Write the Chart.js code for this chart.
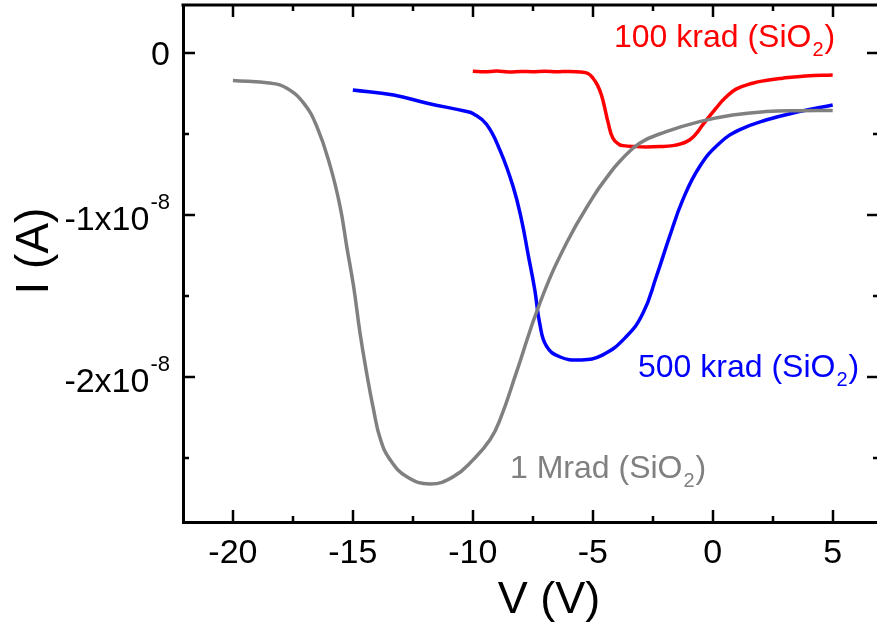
<!DOCTYPE html>
<html>
<head>
<meta charset="utf-8">
<script src="https://cdn.jsdelivr.net/npm/chart.js@4/dist/chart.umd.min.js"></script>
<style>
    html, body { margin: 0; padding: 0; background: #fff; overflow: hidden; }
    #wrap { width: 877px; height: 624px; overflow: hidden; }
</style>
</head>
<body>
<div id="wrap"><canvas id="ivChart" width="884" height="624"></canvas></div>
<script>
// current values are in units of 1e-8 A
const grayV = [-20, -18.4, -17.75, -17.05, -16.5, -15.94, -15.53, -15.25, -14.97, -14.7, -14.42, -14.14, -13.86, -13.45, -12.75, -11.78, -10.81, -9.98, -9.29, -8.87, -8.18, -7.21, -6.1, -4.99, -4.4, -3.88, -3.05, -1.94, -0.55, 0.83, 2.22, 3.61, 5];
const grayI = [-0.17, -0.187, -0.218, -0.31, -0.455, -0.70, -0.95, -1.2, -1.44, -1.73, -1.98, -2.2, -2.38, -2.51, -2.615, -2.66, -2.615, -2.51, -2.389, -2.265, -1.97, -1.545, -1.175, -0.89, -0.765, -0.67, -0.557, -0.486, -0.424, -0.383, -0.362, -0.356, -0.355];

const blueV = [-15, -13.3, -11.9, -10.3, -9.98, -9.43, -8.87, -8.32, -7.97, -7.7, -7.42, -7.21, -6.93, -6.38, -5.55, -4.6, -3.6, -2.91, -2.35, -1.8, -1.25, -0.55, 0.28, 1.11, 2.22, 3.61, 5];
const blueI = [-0.228, -0.26, -0.31, -0.36, -0.375, -0.44, -0.6, -0.825, -1.03, -1.24, -1.46, -1.67, -1.81, -1.875, -1.895, -1.865, -1.75, -1.607, -1.38, -1.134, -0.907, -0.702, -0.557, -0.475, -0.414, -0.362, -0.321];

const redV = [-10, -9.5, -9, -8.5, -8, -7.5, -7, -6.5, -6, -5.5, -5.2, -4.99, -4.8, -4.64, -4.5, -4.37, -4.16, -3.9, -3.74, -3.2, -2.77, -2.2, -1.66, -1.3, -0.97, -0.7, -0.42, 0.14, 0.5, 0.97, 1.66, 2.2, 2.91, 3.88, 5];
const redI = [-0.113, -0.116, -0.112, -0.117, -0.114, -0.116, -0.113, -0.116, -0.114, -0.118, -0.127, -0.156, -0.2, -0.259, -0.34, -0.424, -0.527, -0.565, -0.572, -0.578, -0.58, -0.578, -0.572, -0.56, -0.537, -0.5, -0.444, -0.341, -0.28, -0.223, -0.187, -0.17, -0.156, -0.142, -0.136];

const seriesLabels = ['1 Mrad (SiO', '500 krad (SiO', '100 krad (SiO'];
const seriesColors = ['#808080', '#0000ff', '#ff0000'];
const xTickLabels = ['-20', '-15', '-10', '-5', '0', '5'];
const yTickLabels = ['0', '-1x10', '-2x10'];
const xTitle = 'V (V)';
const yTitle = 'I (A)';

const FONT = '"Liberation Sans", Arial, sans-serif';

function toPoints(xs, ys) {
    return xs.map((v, i) => ({ x: v, y: ys[i] }));
}

function drawSubText(ctx, main, sub, x, y, size, color) {
    ctx.fillStyle = color;
    ctx.textAlign = 'left';
    ctx.textBaseline = 'alphabetic';
    ctx.font = size + 'px ' + FONT;
    ctx.fillText(main, x, y);
    let w = ctx.measureText(main).width;
    ctx.font = Math.round(size * 0.62) + 'px ' + FONT;
    ctx.fillText(sub, x + w + 1, y + 9);
    w += ctx.measureText(sub).width + 2;
    ctx.font = size + 'px ' + FONT;
    ctx.fillText(')', x + w, y);
}

const framePlugin = {
    id: 'frame',
    afterDraw(chart) {
        const ctx = chart.ctx;
        const area = chart.chartArea;
        const xs = chart.scales.x;
        const ys = chart.scales.y;
        ctx.save();
        ctx.strokeStyle = '#000';
        ctx.lineWidth = 3;
        ctx.lineCap = 'butt';

        // top and right border
        ctx.beginPath();
        ctx.moveTo(area.left - 1.5, area.top);
        ctx.lineTo(area.right, area.top);
        ctx.lineTo(area.right, area.bottom + 1.5);
        ctx.stroke();

        // x ticks (bottom and top, inward)
        ctx.lineWidth = 2.5;
        xs.ticks.forEach(t => {
            const px = Math.round(xs.getPixelForValue(t.value));
            const major = Math.abs(t.value % 5) < 1e-6;
            const len = major ? 12 : 6;
            ctx.beginPath();
            ctx.moveTo(px, area.bottom);
            ctx.lineTo(px, area.bottom - len);
            ctx.moveTo(px, area.top);
            ctx.lineTo(px, area.top + len);
            ctx.stroke();
        });
        // y ticks (left and right, inward)
        ys.ticks.forEach(t => {
            const py = Math.round(ys.getPixelForValue(t.value));
            const major = Math.abs(t.value % 1) < 1e-6;
            const len = major ? 12 : 6;
            ctx.beginPath();
            ctx.moveTo(area.left, py);
            ctx.lineTo(area.left + len, py);
            ctx.moveTo(area.right, py);
            ctx.lineTo(area.right - len, py);
            ctx.stroke();
        });

        // x tick labels
        ctx.fillStyle = '#000';
        ctx.font = '34px ' + FONT;
        ctx.textAlign = 'center';
        ctx.textBaseline = 'alphabetic';
        xTickLabels.forEach(lbl => {
            const px = xs.getPixelForValue(parseFloat(lbl));
            ctx.fillText(lbl, px, 563);
        });

        // y tick labels with exponent
        yTickLabels.forEach((lbl, i) => {
            const py = ys.getPixelForValue(-i);
            const right = 170;
            if (i === 0) {
                ctx.font = '34px ' + FONT;
                ctx.textAlign = 'right';
                ctx.fillText(lbl, right, py + 12);
            } else {
                ctx.font = '22px ' + FONT;
                const sw = ctx.measureText('-8').width;
                ctx.textAlign = 'right';
                ctx.fillText('-8', right, py - 6);
                ctx.font = '34px ' + FONT;
                ctx.fillText(lbl, right - sw - 1, py + 15);
            }
        });

        // axis titles
        ctx.font = '45px ' + FONT;
        ctx.textAlign = 'center';
        ctx.fillText(xTitle, 549, 613);
        ctx.save();
        ctx.translate(48, 251);
        ctx.rotate(-Math.PI / 2);
        ctx.font = '46px ' + FONT;
        ctx.textBaseline = 'alphabetic';
        ctx.fillText(yTitle, 0, 0);
        ctx.restore();

        // series annotations
        drawSubText(ctx, seriesLabels[2], '2', 614, 47, 32, seriesColors[2]);
        drawSubText(ctx, seriesLabels[1], '2', 638, 377, 32, seriesColors[1]);
        drawSubText(ctx, seriesLabels[0], '2', 510, 478, 32, seriesColors[0]);

        ctx.restore();
    }
};

const ctx = document.getElementById('ivChart').getContext('2d');
new Chart(ctx, {
    type: 'scatter',
    data: {
        datasets: [
            { label: seriesLabels[0], data: toPoints(grayV, grayI), borderColor: seriesColors[0] },
            { label: seriesLabels[1], data: toPoints(blueV, blueI), borderColor: seriesColors[1] },
            { label: seriesLabels[2], data: toPoints(redV, redI), borderColor: seriesColors[2] }
        ].map(d => Object.assign(d, {
            showLine: true,
            pointRadius: 0,
            borderWidth: 3.5,
            tension: 0.45,
            fill: false
        }))
    },
    options: {
        responsive: false,
        animation: false,
        events: [],
        layout: { padding: { top: 5, right: 5, left: 0, bottom: 0 } },
        plugins: { legend: { display: false }, tooltip: { enabled: false } },
        scales: {
            x: {
                type: 'linear',
                min: -22.08,
                max: 6.93,
                grid: { display: false },
                border: { display: true, width: 3, color: '#000' },
                ticks: { display: false, stepSize: 2.5, includeBounds: false },
                afterFit(scale) { scale.height = 102; }
            },
            y: {
                type: 'linear',
                min: -2.895,
                max: 0.296,
                grid: { display: false },
                border: { display: true, width: 3, color: '#000' },
                ticks: { display: false, stepSize: 0.5, includeBounds: false },
                afterFit(scale) { scale.width = 183; }
            }
        }
    },
    plugins: [framePlugin]
});
</script>
</body>
</html>
